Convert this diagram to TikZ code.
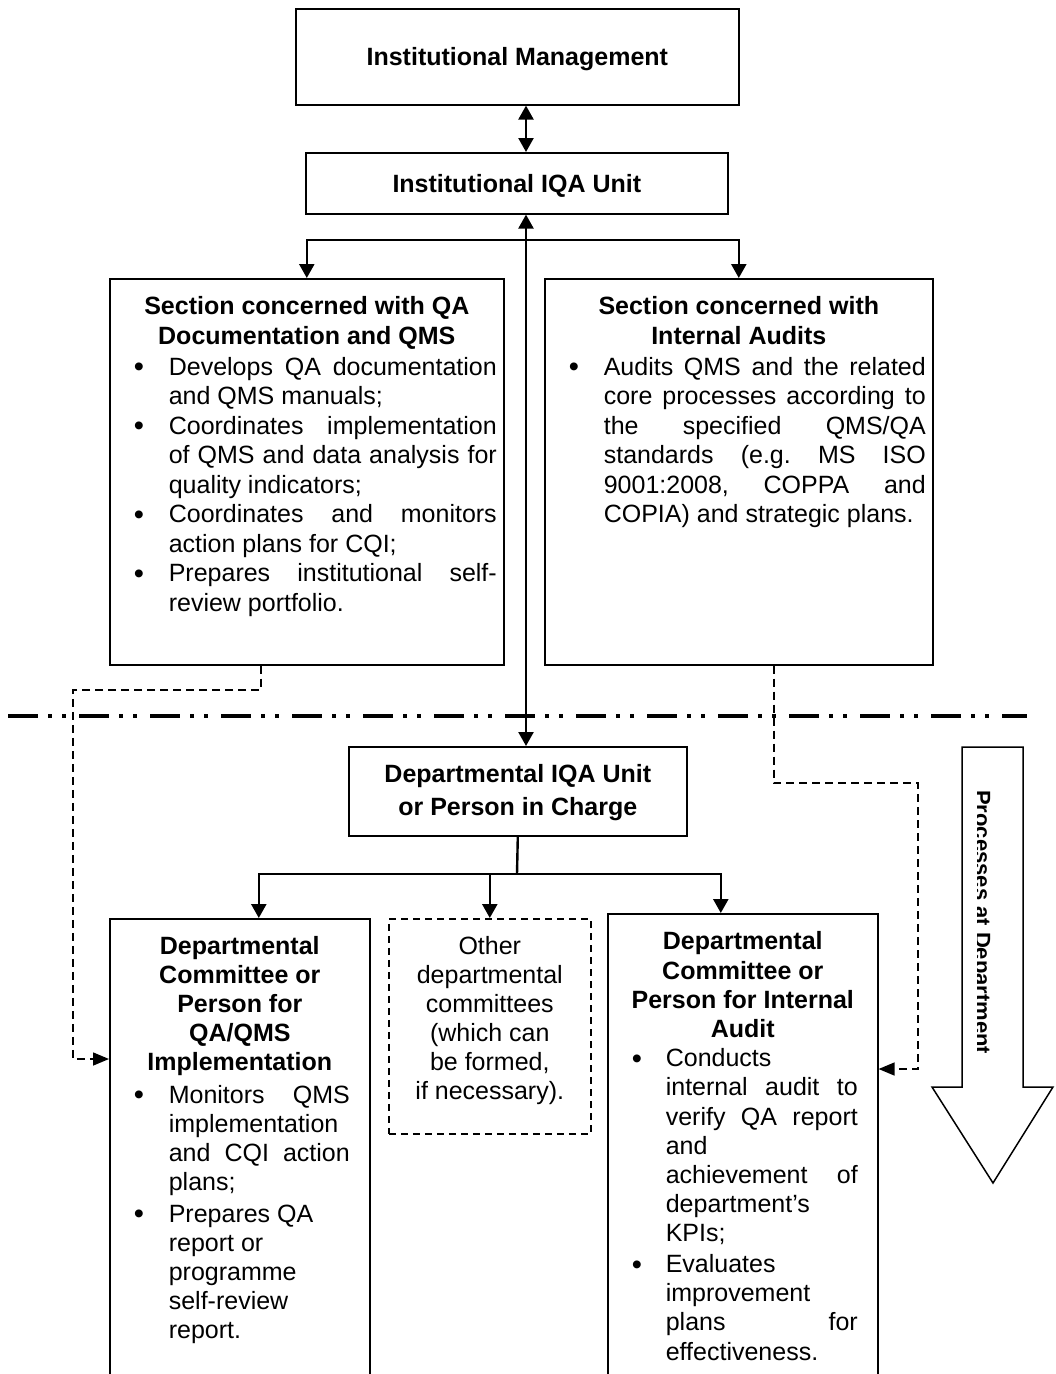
\documentclass[tikz,border=0pt]{standalone}
\usepackage{fontspec}
\setmainfont{Liberation Sans}
\usetikzlibrary{arrows.meta}

% bullet lists with a hanging indent
\newlength\bind
\newlength\bpos
\newcommand\bulletmark{\raisebox{-1.5pt}{\fontsize{29}{29}\selectfont\textbullet}}
\newcommand\bitem[1]{\par\noindent\hangindent=\bind\hangafter=1\relax
  \makebox[\bind][l]{\hspace*{\bpos}\bulletmark}#1\par}
% fixed-size text area of a box, text hung from the top
\newcommand\inbox[3]{\parbox[c][#2][t]{#1}{\fontsize{25}{29.5}\selectfont
  \hyphenpenalty=10000 \exhyphenpenalty=10000 \tolerance=10000 \hbadness=10000
  \frenchspacing #3}}

\tikzset{
  box/.style={draw, line width=1.6pt, anchor=north west, inner ysep=0pt, inner xsep=0pt,
    font=\fontsize{25}{29.5}\selectfont},
  dashbox/.style={box, dash pattern=on 7pt off 5pt},
  conn/.style={line width=2.4pt},
  tipd/.style={-{Triangle[length=14pt,width=15pt]}},
  tipb/.style={{Triangle[length=14pt,width=15pt]}-{Triangle[length=14pt,width=15pt]}},
  dconn/.style={line width=1.6pt, dash pattern=on 8pt off 5pt,
    -{Triangle[length=16pt,width=13pt]}},
}

\begin{document}
\begin{tikzpicture}[x=1pt,y=-1pt]
\useasboundingbox (0,0) rectangle (1056,1374);
\fill[white] (0,0) rectangle (1056,1374);
\clip (0,0) rectangle (1056,1374);

% institutional level
\node[box] (im) at (295,8) {\inbox{443pt}{96pt}{\centering\bfseries\rule{0pt}{57pt}Institutional Management\par}};
\node[box] (iqa) at (305,152) {\inbox{422pt}{61pt}{\centering\bfseries\rule{0pt}{39.5pt}Institutional IQA Unit\par}};

\node[box, inner xsep=7pt] (lsec) at (109,278) {\inbox{380pt}{386pt}{%
  {\centering\bfseries\rule{0pt}{36pt}Section concerned with QA\\Documentation and QMS\par}%
  \vspace{1.5pt}%
  \setlength\bind{52pt}\setlength\bpos{17pt}%
  \bitem{Develops QA documentation\linebreak and QMS manuals;}%
  \bitem{Coordinates implementation\linebreak of QMS and data analysis for\linebreak quality indicators;}%
  \bitem{Coordinates and monitors\linebreak action plans for CQI;}%
  \bitem{Prepares institutional self-\linebreak review portfolio.}}};

\node[box, inner xsep=7pt] (rsec) at (544,278) {\inbox{374pt}{386pt}{%
  {\centering\bfseries\rule{0pt}{36pt}Section concerned with\\Internal Audits\par}%
  \vspace{1.5pt}%
  \setlength\bind{52pt}\setlength\bpos{17pt}%
  \bitem{Audits QMS and the related\linebreak core processes according to\linebreak the specified QMS/QA\linebreak standards (e.g. MS ISO\linebreak 9001:2008, COPPA and\linebreak COPIA) and strategic plans.}}};

% boundary between institution and department
\draw[line width=4pt, dash pattern=on 30pt off 10pt on 4pt off 10pt on 4pt off 13pt]
  (8,716) -- (1027,716);

% departmental level
\node[box] (diqa) at (348,746) {\inbox{338pt}{89pt}{\centering\bfseries\fontsize{25}{33}\selectfont
  \rule{0pt}{36pt}Departmental IQA Unit\\or Person in Charge\par}};

\node[box, inner xsep=20pt] (dleft) at (109,918) {\inbox{220pt}{480pt}{%
  {\centering\bfseries\fontsize{25}{28.8}\selectfont\rule{0pt}{36pt}Departmental\\Committee or\\Person for\\QA/QMS\\Implementation\par}%
  \vspace{4pt}%
  \fontsize{25}{29.2}\selectfont
  \setlength\bind{39pt}\setlength\bpos{4pt}%
  \bitem{Monitors QMS\linebreak implementation\linebreak and CQI action\linebreak plans;}%
  \vspace{2pt}%
  \bitem{Prepares QA\\report or\\programme\\self-review\\report.}}};

\node[dashbox, inner xsep=10pt] (dother) at (388,918) {\inbox{182pt}{215pt}{%
  \centering\fontsize{25}{29}\selectfont\rule{0pt}{36pt}Other\\departmental\\committees\\(which can\\be formed,\\if necessary).\par}};

\node[box, inner xsep=20pt] (dright) at (607,913) {\inbox{230pt}{485pt}{%
  \fontsize{25}{29.2}\selectfont
  {\centering\bfseries\rule{0pt}{36pt}Departmental\\Committee or\\Person for Internal\\Audit\par}%
  \setlength\bind{38pt}\setlength\bpos{4pt}%
  \bitem{Conducts\linebreak internal audit to\linebreak verify QA report\linebreak and\linebreak achievement of\linebreak department’s\linebreak KPIs;}%
  \vspace{1.5pt}%
  \bitem{Evaluates\linebreak improvement\linebreak plans for\linebreak effectiveness.}}};

% solid reporting lines
\coordinate (spine) at (526,240);
\draw[conn, tipb] (im.south -| spine) -- (iqa.north -| spine);
\draw[conn, tipb] (iqa.south -| spine) -- (diqa.north -| spine);
\draw[conn, tipd] (spine) -| (lsec.north);
\draw[conn, tipd] (spine) -| (rsec.north);

\coordinate (fork) at (517,874);
\draw[conn] (diqa.south) -- (fork);
\draw[conn, tipd] (fork) -| ([xshift=19pt]dleft.north);
\draw[conn, tipd] (fork) -| (dother.north);
\draw[conn, tipd] (fork) -| ([xshift=-22pt]dright.north);

% dashed links between the sections and the departmental committees
\coordinate (lturn) at (73,690);
\coordinate (lfoot) at (73,1059);
\draw[dconn] ([xshift=-46pt]lsec.south) |- (lturn) -- (lfoot) -- (lfoot -| dleft.west);
\coordinate (rturn) at (918,783);
\coordinate (rfoot) at (918,1069);
\draw[dconn] ([xshift=35pt]rsec.south) |- (rturn) -- (rfoot) -- (rfoot -| dright.east);

% downward process arrow
\draw[line width=1.5pt, line join=miter] (962,747) -- (1023,747) -- (1023,1087) -- (1053,1087)
  -- (993,1183) -- (932,1087) -- (962,1087) -- cycle;
\begin{scope}
  \clip (977,740) rectangle (1030,1190);
  \node[rotate=-90, anchor=base west, inner sep=0pt, font=\bfseries\fontsize{22}{26}\selectfont]
    (proc) at (975,790) {Processes at Department};
\end{scope}
\end{tikzpicture}
\end{document}
